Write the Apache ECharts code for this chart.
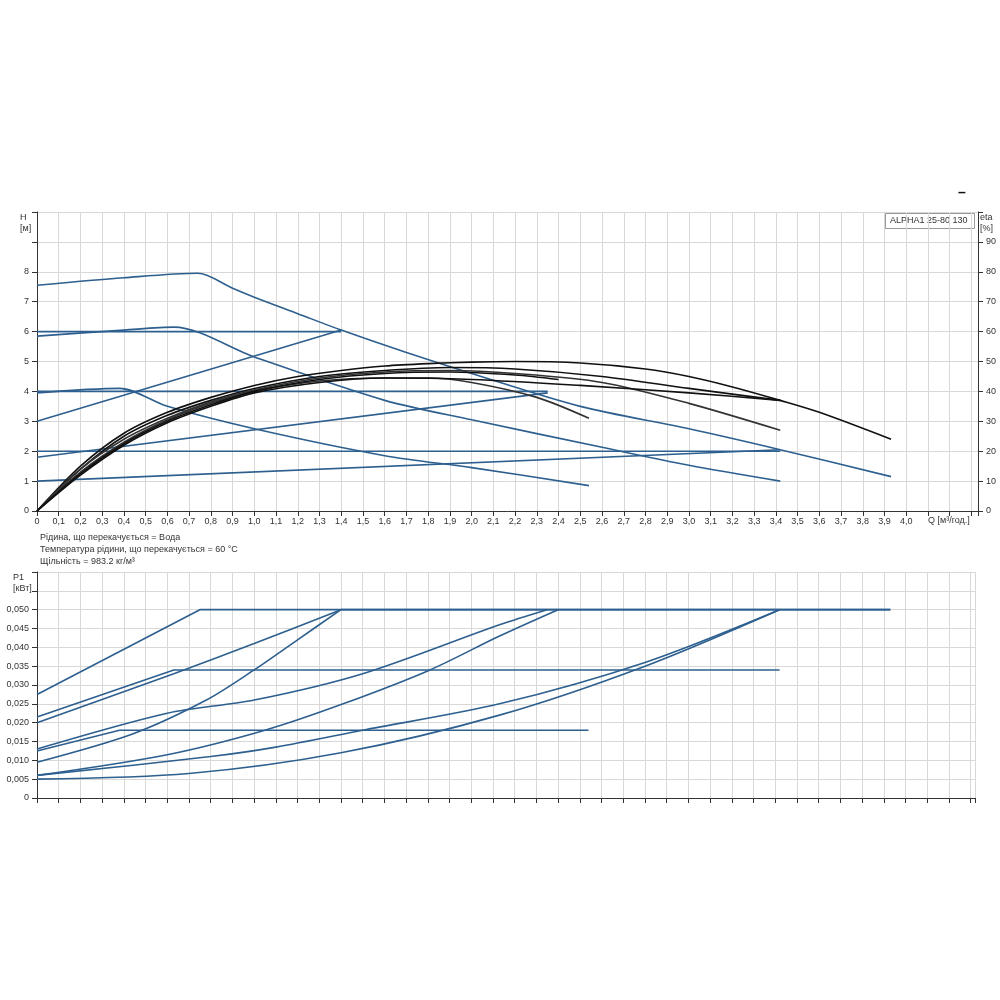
<!DOCTYPE html>
<html>
<head>
<meta charset="utf-8">
<script src="https://cdn.jsdelivr.net/npm/echarts@6/dist/echarts.min.js"></script>
<style>html,body{margin:0;background:#fff}#main{width:1000px;height:1000px}</style>
</head>
<body>
<div id="main"></div>
<script>
// H curves [Q, H]
var hMax = [[0,7.55],[0.4,7.8],[0.74,7.95],[0.9,7.45],[1.0,7.15],[1.2,6.6],[1.4,6.05],[1.7,5.3],[2.0,4.6],[2.5,3.5],[3.0,2.75],[3.42,2.05],[3.93,1.15]];
var hMid = [[0,5.85],[0.4,6.05],[0.63,6.15],[1.0,5.15],[1.6,3.7],[2.0,3.05],[2.6,2.13],[3.0,1.53],[3.42,1.0]];
var hMin = [[0,3.95],[0.38,4.1],[0.6,3.5],[1.0,2.75],[1.6,1.85],[2.0,1.45],[2.54,0.85]];
var cp6 = [[0,6.0],[1.4,6.0]];
var pp6 = [[0,3.0],[1.4,6.05]];
var cp4 = [[0,4.0],[2.35,4.0]];
var pp4 = [[0,1.8],[2.35,3.95]];
var cp2 = [[0,2.0],[3.42,2.0]];
var pp2 = [[0,1.0],[3.42,2.05]];
// eta curves [Q, %]
var eta1 = [[0,0],[0.2,15],[0.4,26],[0.6,33],[0.8,38],[1.0,42],[1.2,45],[1.4,47],[1.6,48.5],[1.8,49.3],[2.0,49.8],[2.2,50],[2.5,49.5],[2.8,47.5],[3.0,45],[3.2,41.5],[3.42,37],[3.6,33],[3.93,24]];
var eta2 = [[0,0],[0.2,14],[0.4,25],[0.6,32],[0.8,37],[1.0,41],[1.3,45],[1.6,47],[1.9,48],[2.2,47.5],[2.6,45],[3.0,41],[3.42,37]];
var eta3 = [[0,0],[0.2,14],[0.4,24],[0.6,31],[0.8,36.5],[1.0,40.5],[1.3,44.5],[1.6,46.5],[1.9,47],[2.2,46],[2.6,43],[3.0,36],[3.42,27]];
var eta4 = [[0,0],[0.2,13],[0.4,23],[0.6,30.5],[0.8,36],[1.0,40],[1.3,43.5],[1.6,44.5],[1.8,44.5],[2.0,43],[2.3,38],[2.54,31]];
var eta5 = [[0,0],[0.2,12],[0.4,22],[0.6,29.5],[0.8,35],[1.0,39.5],[1.3,43],[1.6,44.5],[2.0,44],[2.5,42],[3.0,39.5],[3.42,37]];
var eta6 = [[0,0],[0.2,12.5],[0.4,22.5],[0.6,30],[0.8,35.5],[1.0,40],[1.3,44],[1.6,46],[1.9,46.5],[2.2,45.5],[2.4,44]];
// P1 curves [Q, kW]
var p1 = [[0,0.0275],[0.75,0.050],[3.93,0.050]];
var p2 = [[0,0.0215],[0.63,0.034],[3.42,0.034]];
var p3 = [[0,0.020],[0.63,0.033],[1.0,0.041],[1.4,0.050]];
var p4 = [[0,0.0125],[0.38,0.018],[2.54,0.018]];
var p5 = [[0,0.0095],[0.44,0.017],[0.78,0.026],[1.0,0.034],[1.2,0.042],[1.4,0.050]];
var p6 = [[0,0.013],[0.6,0.0225],[1.0,0.026],[1.5,0.033],[2.13,0.046],[2.35,0.050]];
var p7 = [[0,0.006],[0.6,0.0115],[1.05,0.018],[1.41,0.025],[1.81,0.034],[2.13,0.043],[2.4,0.050]];
var p8 = [[0,0.006],[0.8,0.011],[1.1,0.0135],[1.5,0.018],[2.13,0.025],[2.8,0.036],[3.42,0.050]];
var p9 = [[0,0.005],[0.7,0.0065],[1.4,0.012],[2.13,0.022],[2.8,0.035],[3.42,0.050]];
var p10 = [[1.4,0.050],[3.93,0.050]];

var BLUE = '#2d5f8f', BLACK = '#111';
var font = 'Liberation Sans';
function ln(data, color, xi, yi, smooth) {
  return {type:'line', data:data, xAxisIndex:xi, yAxisIndex:yi, symbol:'none', smooth:smooth ? 0.3 : false,
    lineStyle:{color:color, width:1.6}, silent:true, animation:false};
}
var qLabel = function (v) { return v > 4.001 ? '' : (v === 0 ? '0' : v.toFixed(1).replace('.', ',')); };
var gridLine = {show:true, lineStyle:{color:'#d8d8d8', width:1}};
var axLine = {show:true, lineStyle:{color:'#333'}};
var lbl = {fontFamily:font, fontSize:9, color:'#333'};

var chart = echarts.init(document.getElementById('main'));
chart.setOption({
  backgroundColor:'#fff',
  grid:[{left:37, right:22, top:212, height:299}, {left:37, right:25, top:572, height:226}],
  xAxis:[
    {gridIndex:0, type:'value', min:0, max:4.33, interval:0.1, axisLine:axLine, axisTick:{show:true},
     axisLabel:Object.assign({formatter:qLabel, margin:6}, lbl), splitLine:gridLine},
    {gridIndex:1, type:'value', min:0, max:4.32, interval:0.1, axisLine:axLine, axisTick:{show:true},
     axisLabel:{show:false}, splitLine:gridLine}
  ],
  yAxis:[
    {gridIndex:0, type:'value', min:0, max:10, interval:1, axisLine:axLine, axisTick:{show:true},
     axisLabel:Object.assign({formatter:function(v){return v > 8 ? '' : v;}}, lbl), splitLine:gridLine},
    {gridIndex:0, type:'value', min:0, max:100, interval:10, position:'right', axisLine:axLine, axisTick:{show:true},
     axisLabel:Object.assign({formatter:function(v){return v > 90 ? '' : v;}}, lbl), splitLine:{show:false}},
    {gridIndex:1, type:'value', min:0, max:0.06, interval:0.005, axisLine:axLine, axisTick:{show:true},
     axisLabel:Object.assign({formatter:function(v){return v === 0 ? '0' : (v > 0.0501 ? '' : v.toFixed(3).replace('.', ','));}}, lbl), splitLine:gridLine}
  ],
  graphic:[
    {type:'text', left:20, top:212, style:{text:'H\n[м]', font:'9px '+font, fill:'#333', lineHeight:11}},
    {type:'text', left:980, top:212, style:{text:'eta\n[%]', font:'9px '+font, fill:'#333', lineHeight:11}},
    {type:'text', left:13, top:572, style:{text:'P1\n[кВт]', font:'9px '+font, fill:'#333', lineHeight:11}},
    {type:'text', left:928, top:516, style:{text:'Q [м³/год.]', font:'9px '+font, fill:'#333'}},
    {type:'text', left:40, top:532, style:{text:'Рідина, що перекачується = Вода\nТемпература рідини, що перекачується = 60 °C\nЩільність = 983.2 кг/м³', font:'9px '+font, fill:'#333', lineHeight:12}},
    {type:'rect', left:885, top:213, shape:{width:89, height:15}, style:{fill:'#fff', stroke:'#999'}},
    {type:'text', left:890, top:216, style:{text:'ALPHA1 25-80 130', font:'9px '+font, fill:'#333'}},
    {type:'text', left:958, top:186, style:{text:'–', font:'bold 14px '+font, fill:'#111'}}
  ],
  series:[
    ln(hMax, BLUE, 0, 0, true), ln(hMid, BLUE, 0, 0, true), ln(hMin, BLUE, 0, 0, true),
    ln(cp6, BLUE, 0, 0), ln(pp6, BLUE, 0, 0), ln(cp4, BLUE, 0, 0), ln(pp4, BLUE, 0, 0),
    ln(cp2, BLUE, 0, 0), ln(pp2, BLUE, 0, 0),
    ln(eta1, BLACK, 0, 1, true), ln(eta2, BLACK, 0, 1, true), ln(eta3, '#333', 0, 1, true),
    ln(eta4, '#333', 0, 1, true), ln(eta5, BLACK, 0, 1, true), ln(eta6, BLACK, 0, 1, true),
    ln(p1, BLUE, 1, 2), ln(p2, BLUE, 1, 2), ln(p3, BLUE, 1, 2, true), ln(p4, BLUE, 1, 2),
    ln(p5, BLUE, 1, 2, true), ln(p6, BLUE, 1, 2, true), ln(p7, BLUE, 1, 2, true),
    ln(p8, BLUE, 1, 2, true), ln(p9, BLUE, 1, 2, true), ln(p10, BLUE, 1, 2)
  ]
});
</script>
</body>
</html>
